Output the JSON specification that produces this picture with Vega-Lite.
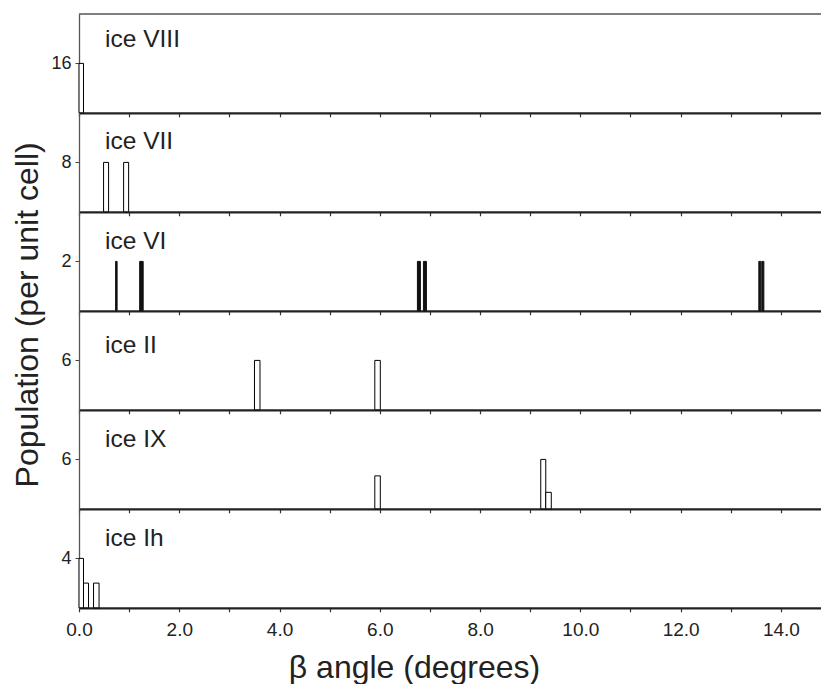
{
  "$schema": "https://vega.github.io/schema/vega-lite/v6.json",
  "padding": {"left": 11, "top": 13, "right": 0, "bottom": 0},
  "background": "white",
  "spacing": 0,
  "bounds": "flush",
  "data": {"values": [
    {"phase": "ice VIII", "x0": 0.0, "x1": 0.09, "n": 16},
    {"phase": "ice VII", "x0": 0.49, "x1": 0.59, "n": 8},
    {"phase": "ice VII", "x0": 0.89, "x1": 0.99, "n": 8},
    {"phase": "ice VI", "x0": 0.73, "x1": 0.76, "n": 2},
    {"phase": "ice VI", "x0": 1.21, "x1": 1.28, "n": 2},
    {"phase": "ice VI", "x0": 6.75, "x1": 6.81, "n": 2},
    {"phase": "ice VI", "x0": 6.87, "x1": 6.93, "n": 2},
    {"phase": "ice VI", "x0": 13.56, "x1": 13.6, "n": 2},
    {"phase": "ice VI", "x0": 13.62, "x1": 13.66, "n": 2},
    {"phase": "ice II", "x0": 3.5, "x1": 3.61, "n": 6},
    {"phase": "ice II", "x0": 5.9, "x1": 6.01, "n": 6},
    {"phase": "ice IX", "x0": 5.9, "x1": 6.01, "n": 4},
    {"phase": "ice IX", "x0": 9.21, "x1": 9.31, "n": 6},
    {"phase": "ice IX", "x0": 9.31, "x1": 9.42, "n": 2},
    {"phase": "ice Ih", "x0": 0.0, "x1": 0.09, "n": 4},
    {"phase": "ice Ih", "x0": 0.09, "x1": 0.19, "n": 2},
    {"phase": "ice Ih", "x0": 0.29, "x1": 0.4, "n": 2}
  ]},
  "vconcat": [
    {
      "width": 742, "height": 98.8,
      "layer": [
        {"mark": {"type": "rule", "stroke": "#555", "strokeWidth": 1.5},
         "data": {"values": [{}]},
         "encoding": {"y": {"datum": 32, "type": "quantitative", "scale": {"domain": [0, 32], "nice": false}}}},
        {"transform": [{"filter": "datum.phase === 'ice VIII'"}],
         "mark": {"type": "bar", "fill": "white", "stroke": "black", "strokeWidth": 1},
         "encoding": {
           "x": {"field": "x0", "type": "quantitative", "scale": {"domain": [0, 14.8], "nice": false, "zero": false},
                 "axis": {"values": [0,1,2,3,4,5,6,7,8,9,10,11,12,13,14], "labels": false, "title": null, "tickSize": 4, "tickWidth": 1.2, "tickColor": "#333", "domainWidth": 2.2, "domainColor": "#222", "grid": false}},
           "x2": {"field": "x1"},
           "y": {"field": "n", "type": "quantitative", "scale": {"domain": [0, 32], "nice": false},
                 "axis": {"values": [16], "title": null, "tickSize": 4, "labelPadding": 4, "labelFontSize": 18, "labelColor": "#222", "domainColor": "#555", "domainWidth": 1.3, "tickColor": "#444", "grid": false}},
           "y2": {"datum": 0}
         }},
        {"mark": {"type": "text", "text": "ice VIII", "align": "left", "baseline": "alphabetic", "fontSize": 24.5, "color": "#222"},
         "data": {"values": [{}]},
         "encoding": {"x": {"datum": 0.52, "type": "quantitative"}, "y": {"datum": 21.4, "type": "quantitative"}}}
      ]
    },
    {
      "width": 742, "height": 98.8,
      "layer": [
        {"transform": [{"filter": "datum.phase === 'ice VII'"}],
         "mark": {"type": "bar", "fill": "white", "stroke": "black", "strokeWidth": 1},
         "encoding": {
           "x": {"field": "x0", "type": "quantitative", "scale": {"domain": [0, 14.8], "nice": false, "zero": false},
                 "axis": {"values": [0,1,2,3,4,5,6,7,8,9,10,11,12,13,14], "labels": false, "title": null, "tickSize": 4, "tickWidth": 1.2, "tickColor": "#333", "domainWidth": 2.2, "domainColor": "#222", "grid": false}},
           "x2": {"field": "x1"},
           "y": {"field": "n", "type": "quantitative", "scale": {"domain": [0, 16], "nice": false},
                 "axis": {"values": [8], "title": null, "tickSize": 4, "labelPadding": 4, "labelFontSize": 18, "labelColor": "#222", "domainColor": "#555", "domainWidth": 1.3, "tickColor": "#444", "grid": false}},
           "y2": {"datum": 0}
         }},
        {"mark": {"type": "text", "text": "ice VII", "align": "left", "baseline": "alphabetic", "fontSize": 24.5, "color": "#222"},
         "data": {"values": [{}]},
         "encoding": {"x": {"datum": 0.52, "type": "quantitative"}, "y": {"datum": 10.1, "type": "quantitative"}}}
      ]
    },
    {
      "width": 742, "height": 98.8,
      "layer": [
        {"transform": [{"filter": "datum.phase === 'ice VI'"}],
         "mark": {"type": "bar", "fill": "#111", "stroke": "#111", "strokeWidth": 1},
         "encoding": {
           "x": {"field": "x0", "type": "quantitative", "scale": {"domain": [0, 14.8], "nice": false, "zero": false},
                 "axis": {"values": [0,1,2,3,4,5,6,7,8,9,10,11,12,13,14], "labels": false, "title": null, "tickSize": 4, "tickWidth": 1.2, "tickColor": "#333", "domainWidth": 2.2, "domainColor": "#222", "grid": false}},
           "x2": {"field": "x1"},
           "y": {"field": "n", "type": "quantitative", "scale": {"domain": [0, 4], "nice": false},
                 "axis": {"values": [2], "title": "Population (per unit cell)", "titleFontSize": 32, "titleFontWeight": "normal", "titleColor": "#222", "titleX": -41.5, "titleY": 102.4, "titleBaseline": "alphabetic", "titleAngle": 270, "titleAlign": "center",
                          "tickSize": 4, "labelPadding": 4, "labelFontSize": 18, "labelColor": "#222", "domainColor": "#555", "domainWidth": 1.3, "tickColor": "#444", "grid": false}},
           "y2": {"datum": 0}
         }},
        {"mark": {"type": "text", "text": "ice VI", "align": "left", "baseline": "alphabetic", "fontSize": 24.5, "color": "#222"},
         "data": {"values": [{}]},
         "encoding": {"x": {"datum": 0.52, "type": "quantitative"}, "y": {"datum": 2.49, "type": "quantitative"}}}
      ]
    },
    {
      "width": 742, "height": 98.8,
      "layer": [
        {"transform": [{"filter": "datum.phase === 'ice II'"}],
         "mark": {"type": "bar", "fill": "white", "stroke": "black", "strokeWidth": 1},
         "encoding": {
           "x": {"field": "x0", "type": "quantitative", "scale": {"domain": [0, 14.8], "nice": false, "zero": false},
                 "axis": {"values": [0,1,2,3,4,5,6,7,8,9,10,11,12,13,14], "labels": false, "title": null, "tickSize": 4, "tickWidth": 1.2, "tickColor": "#333", "domainWidth": 2.2, "domainColor": "#222", "grid": false}},
           "x2": {"field": "x1"},
           "y": {"field": "n", "type": "quantitative", "scale": {"domain": [0, 12], "nice": false},
                 "axis": {"values": [6], "title": null, "tickSize": 4, "labelPadding": 4, "labelFontSize": 18, "labelColor": "#222", "domainColor": "#555", "domainWidth": 1.3, "tickColor": "#444", "grid": false}},
           "y2": {"datum": 0}
         }},
        {"mark": {"type": "text", "text": "ice II", "align": "left", "baseline": "alphabetic", "fontSize": 24.5, "color": "#222"},
         "data": {"values": [{}]},
         "encoding": {"x": {"datum": 0.52, "type": "quantitative"}, "y": {"datum": 6.9, "type": "quantitative"}}}
      ]
    },
    {
      "width": 742, "height": 98.8,
      "layer": [
        {"transform": [{"filter": "datum.phase === 'ice IX'"}],
         "mark": {"type": "bar", "fill": "white", "stroke": "black", "strokeWidth": 1},
         "encoding": {
           "x": {"field": "x0", "type": "quantitative", "scale": {"domain": [0, 14.8], "nice": false, "zero": false},
                 "axis": {"values": [0,1,2,3,4,5,6,7,8,9,10,11,12,13,14], "labels": false, "title": null, "tickSize": 4, "tickWidth": 1.2, "tickColor": "#333", "domainWidth": 2.2, "domainColor": "#222", "grid": false}},
           "x2": {"field": "x1"},
           "y": {"field": "n", "type": "quantitative", "scale": {"domain": [0, 12], "nice": false},
                 "axis": {"values": [6], "title": null, "tickSize": 4, "labelPadding": 4, "labelFontSize": 18, "labelColor": "#222", "domainColor": "#555", "domainWidth": 1.3, "tickColor": "#444", "grid": false}},
           "y2": {"datum": 0}
         }},
        {"mark": {"type": "text", "text": "ice IX", "align": "left", "baseline": "alphabetic", "fontSize": 24.5, "color": "#222"},
         "data": {"values": [{}]},
         "encoding": {"x": {"datum": 0.52, "type": "quantitative"}, "y": {"datum": 7.45, "type": "quantitative"}}}
      ]
    },
    {
      "width": 742, "height": 98.8,
      "layer": [
        {"transform": [{"filter": "datum.phase === 'ice Ih'"}],
         "mark": {"type": "bar", "fill": "white", "stroke": "black", "strokeWidth": 1},
         "encoding": {
           "x": {"field": "x0", "type": "quantitative", "scale": {"domain": [0, 14.8], "nice": false, "zero": false},
                 "axis": {"values": [0,1,2,3,4,5,6,7,8,9,10,11,12,13,14], "labelExpr": "datum.value % 2 === 0 ? format(datum.value, '.1f') : ''",
                          "labelFontSize": 19, "labelColor": "#222", "labelPadding": 24, "labelBaseline": "alphabetic", "labelFlush": false, "labelOverlap": false,
                          "title": "β angle (degrees)", "titleFontSize": 32, "titleFontWeight": "normal", "titleColor": "#222", "titleX": 335, "titleY": 70, "titleBaseline": "alphabetic",
                          "tickSize": 4, "tickWidth": 1.2, "tickColor": "#333", "domainWidth": 2.2, "domainColor": "#222", "grid": false}},
           "x2": {"field": "x1"},
           "y": {"field": "n", "type": "quantitative", "scale": {"domain": [0, 8], "nice": false},
                 "axis": {"values": [4], "title": null, "tickSize": 4, "labelPadding": 4, "labelFontSize": 18, "labelColor": "#222", "domainColor": "#555", "domainWidth": 1.3, "tickColor": "#444", "grid": false}},
           "y2": {"datum": 0}
         }},
        {"mark": {"type": "text", "text": "ice Ih", "align": "left", "baseline": "alphabetic", "fontSize": 24.5, "color": "#222"},
         "data": {"values": [{}]},
         "encoding": {"x": {"datum": 0.52, "type": "quantitative"}, "y": {"datum": 5.0, "type": "quantitative"}}}
      ]
    }
  ],
  "config": {
    "font": "Liberation Sans",
    "view": {"stroke": null}
  }
}
